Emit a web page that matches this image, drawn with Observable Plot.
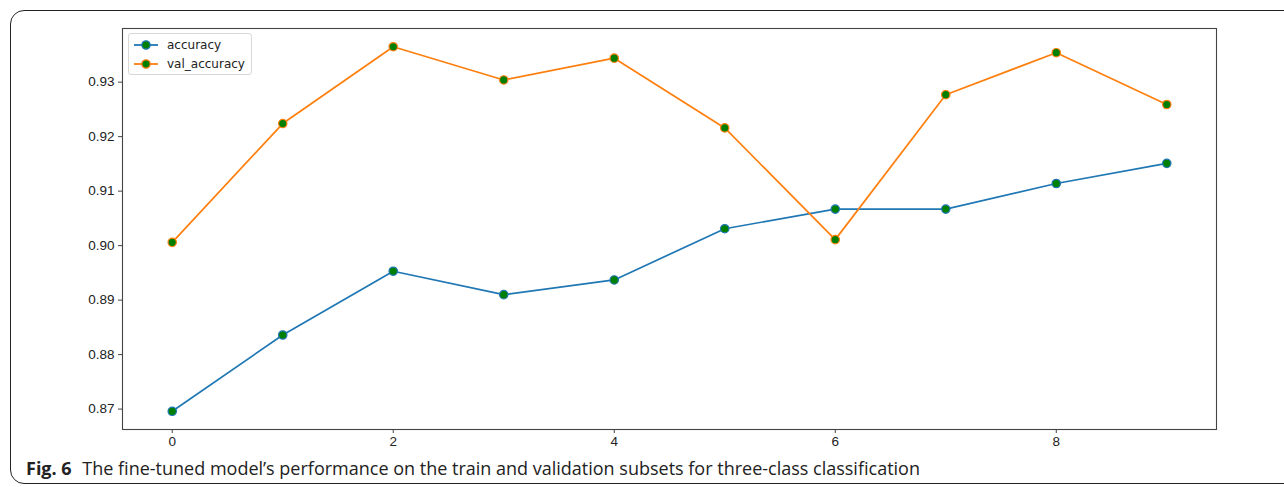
<!DOCTYPE html>
<html>
<head>
<meta charset="utf-8">
<script src="https://cdn.jsdelivr.net/npm/d3@7"></script>
<script src="https://cdn.jsdelivr.net/npm/@observablehq/plot@0.6"></script>
<style>
  html, body { margin: 0; padding: 0; background: #fff; }
  body { position: relative; width: 1284px; height: 487px; overflow: hidden; }
  #border { position: absolute; left: 10px; top: 10px; width: 1300px; height: 474px;
    border: 1.3px solid #222; border-radius: 14px; box-sizing: border-box; }
  #chart { position: absolute; left: 0; top: 0; }
  #legend { position: absolute; left: 128px; top: 33px; width: 124px; height: 42px;
    border: 1px solid #d8d8d8; border-radius: 3px; background: rgba(255,255,255,0.85);
    font-family: "DejaVu Sans", sans-serif; font-size: 12px; color: #222; box-sizing: border-box; }
  #legend .row { position: absolute; left: 4px; height: 18px; display: flex; align-items: center; }
  #legend svg { margin-right: 8px; }
  #caption { position: absolute; left: 26px; top: 456px; font-family: "Open Sans", sans-serif;
    font-size: 18px; color: #222; white-space: nowrap; letter-spacing: 0px; }
  #caption b { font-weight: 700; margin-right: 6px; }
</style>
</head>
<body>
<div id="border"></div>
<div id="chart"></div>
<div id="legend"></div>
<div id="caption"><b>Fig. 6</b> The fine-tuned model’s performance on the train and validation subsets for three-class classification</div>
<script>
const epochs = [0, 1, 2, 3, 4, 5, 6, 7, 8, 9];
const accuracy = [0.8696, 0.8836, 0.8953, 0.8910, 0.8937, 0.9031, 0.9067, 0.9067, 0.9114, 0.9151];
const valAccuracy = [0.9006, 0.9224, 0.9365, 0.9304, 0.9344, 0.9216, 0.9011, 0.9277, 0.9354, 0.9259];
const seriesNames = ["accuracy", "val_accuracy"];
const seriesColors = ["#1f77b4", "#ff7f0e"];
const markerFill = "#007f00";
const xTicks = [0, 2, 4, 6, 8];
const yTicks = [0.87, 0.88, 0.89, 0.90, 0.91, 0.92, 0.93];

const rows = [];
epochs.forEach((e, i) => {
  rows.push({epoch: e, value: accuracy[i], series: seriesNames[0]});
  rows.push({epoch: e, value: valAccuracy[i], series: seriesNames[1]});
});

const allVals = accuracy.concat(valAccuracy);
const yMin = d3.min(allVals), yMax = d3.max(allVals);
const yPad = (yMax - yMin) * 0.05;
const xPad = (d3.max(epochs) - d3.min(epochs)) * 0.05;

const chart = Plot.plot({
  width: 1284,
  height: 452,
  marginLeft: 122,
  marginRight: 68,
  marginTop: 28,
  marginBottom: 23,
  style: {fontFamily: "Liberation Sans, Arial, sans-serif", fontSize: "13.5px", color: "#222", background: "transparent"},
  x: {domain: [d3.min(epochs) - xPad, d3.max(epochs) + xPad], ticks: xTicks, tickFormat: d => String(d), tickSize: 4, tickPadding: 3, label: null},
  y: {domain: [yMin - yPad, yMax + yPad], ticks: yTicks, tickFormat: d3.format(".2f"), tickSize: 4, tickPadding: 4, label: null},
  color: {domain: seriesNames, range: seriesColors},
  marks: [
    Plot.frame({stroke: "#444", strokeWidth: 1.1}),
    Plot.line(rows, {x: "epoch", y: "value", z: "series", stroke: "series", strokeWidth: 1.7}),
    Plot.dot(rows, {x: "epoch", y: "value", fill: markerFill, stroke: "series", strokeWidth: 1.2, r: 4.2}),
    Plot.axisX({ticks: xTicks, tickFormat: d => String(d), tickSize: 4, tickPadding: 3, stroke: "#444"}),
    Plot.axisY({ticks: yTicks, tickFormat: d3.format(".2f"), tickSize: 4, tickPadding: 4, stroke: "#444"})
  ]
});
document.getElementById("chart").appendChild(chart);

const legend = document.getElementById("legend");
seriesNames.forEach((name, i) => {
  const row = document.createElement("div");
  row.className = "row";
  row.style.top = (2 + i * 19) + "px";
  row.innerHTML = `<svg width="26" height="12"><line x1="1" y1="6" x2="25" y2="6" stroke="${seriesColors[i]}" stroke-width="1.8"/><circle cx="13" cy="6" r="4.2" fill="${markerFill}" stroke="${seriesColors[i]}" stroke-width="1.2"/></svg><span>${name}</span>`;
  legend.appendChild(row);
});
</script>
</body>
</html>
